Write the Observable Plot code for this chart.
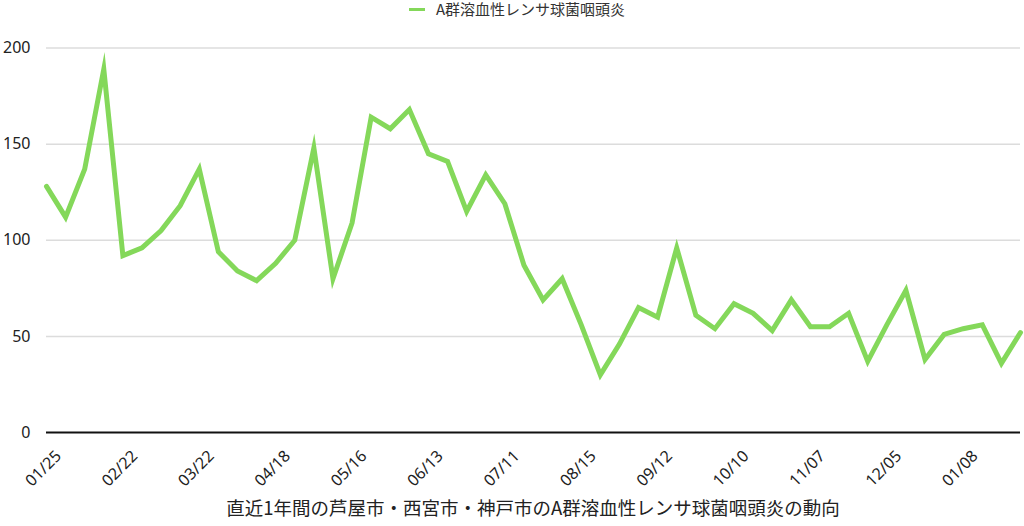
<!DOCTYPE html>
<html><head><meta charset="utf-8">
<script src="https://cdn.jsdelivr.net/npm/d3@7"></script>
<script src="https://cdn.jsdelivr.net/npm/@observablehq/plot@0.6"></script>
<style>
body{margin:0;background:#fff;font-family:"Noto Sans CJK JP","Noto Sans",sans-serif;color:#222;width:1024px;}
#legend{height:20px;position:relative;font-size:15px;color:#333;}
#legend .sw{position:absolute;left:409px;top:8px;width:16px;height:3px;background:#84d85a;}
#legend .tx{position:absolute;left:436px;top:0;line-height:18px;white-space:nowrap;}
#chart svg{display:block;}
#caption{height:36px;text-align:center;font-size:18.5px;line-height:22px;padding-top:6px;padding-left:42px;box-sizing:border-box;color:#222;}
</style></head><body>
<div id="legend"><span class="sw"></span><span class="tx" id="legname"></span></div>
<div id="chart"></div>
<div id="caption"></div>
<script>
const seriesName = "A群溶血性レンサ球菌咽頭炎";
const captionText = "直近1年間の芦屋市・西宮市・神戸市のA群溶血性レンサ球菌咽頭炎の動向";
const tickLabels = ["01/25","02/22","03/22","04/18","05/16","06/13","07/11","08/15","09/12","10/10","11/07","12/05","01/08"];
const values = [128,112,137,189,92,96,105,118,137,94,84,79,88,100,148,80,
  109,164,158,168,145,141,115,134,119,87,69,80,56,30,46,65,60,96,
  61,54,67,62,53,69,55,55,62,37,56,74,38,51,54,56,36,52];
const yTicks = [0,50,100,150,200];

document.getElementById("legname").textContent = seriesName;
document.getElementById("caption").textContent = captionText;

const data = values.map((v,i)=>({i, v}));
const tickIdx = tickLabels.map((_,k)=>k*4);
const chart = Plot.plot({
  width:1024, height:470,
  marginTop:27.5, marginBottom:58, marginLeft:46, marginRight:4,
  style:{fontSize:"16px", fontFamily:"'Noto Sans','Noto Sans CJK JP',sans-serif", color:"#222", background:"#fff"},
  x:{domain:[0, values.length-1]},
  y:{domain:[0,200]},
  marks:[
    Plot.gridY(yTicks.slice(1), {stroke:"#dcdcdc", strokeOpacity:1, strokeWidth:1.5}),
    Plot.ruleY([0], {stroke:"#111", strokeWidth:2}),
    Plot.lineY(data, {x:"i", y:"v", stroke:"#84d85a", strokeWidth:5, strokeLinejoin:"miter", strokeMiterlimit:10}),
    Plot.axisY(yTicks, {tickSize:0, tickPadding:16, label:null, fontSize:16}),
    Plot.axisX(tickIdx, {tickSize:0, tickPadding:6, tickRotate:-45, label:null, tickFormat:d=>tickLabels[d/4], fontSize:16, dx:12, dy:15})
  ]
});
document.getElementById("chart").appendChild(chart);
</script>
</body></html>
